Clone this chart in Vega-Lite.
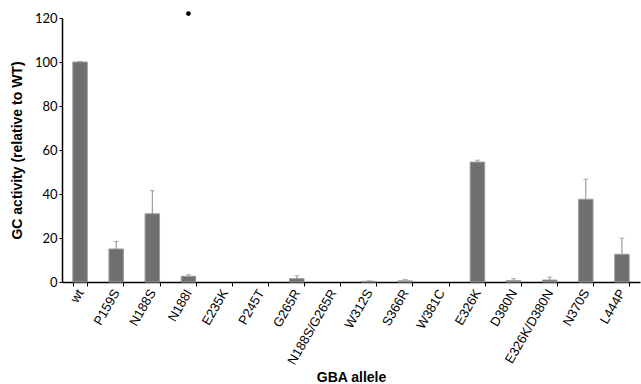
{
  "$schema": "https://vega.github.io/schema/vega-lite/v6.json",
  "autosize": "none",
  "padding": {"left": 62, "top": 18, "right": 1, "bottom": 102},
  "width": 578,
  "height": 264,
  "background": "white",
  "config": {"view": {"stroke": null}, "font": "Liberation Sans"},
  "data": {"values": [
    {"allele": "wt", "value": 100, "upper": 100.2},
    {"allele": "P159S", "value": 15, "upper": 18.5},
    {"allele": "N188S", "value": 31, "upper": 41.5},
    {"allele": "N188I", "value": 2.6, "upper": 3.3},
    {"allele": "E235K", "value": 0, "upper": 0},
    {"allele": "P245T", "value": 0, "upper": 0},
    {"allele": "G265R", "value": 1.5, "upper": 2.8},
    {"allele": "N188S/G265R", "value": 0, "upper": 0},
    {"allele": "W312S", "value": 0.3, "upper": 0.5},
    {"allele": "S366R", "value": 0.5, "upper": 1.1},
    {"allele": "W381C", "value": 0, "upper": 0},
    {"allele": "E326K", "value": 54.5, "upper": 55.4},
    {"allele": "D380N", "value": 0.6, "upper": 1.5},
    {"allele": "E326K/D380N", "value": 0.9, "upper": 2.2},
    {"allele": "N370S", "value": 37.6, "upper": 46.7},
    {"allele": "L444P", "value": 12.6, "upper": 19.9}
  ]},
  "encoding": {
    "x": {
      "field": "allele", "type": "nominal", "sort": null,
      "scale": {
        "domain": ["wt", "P159S", "N188S", "N188I", "E235K", "P245T", "G265R", "N188S/G265R", "W312S", "S366R", "W381C", "E326K", "D380N", "E326K/D380N", "N370S", "L444P"],
        "paddingInner": 0.6, "paddingOuter": 0.3
      },
      "axis": {
        "title": "GBA allele", "titleFont": "Liberation Sans", "titleFontSize": 14, "titleFontWeight": "bold", "titleColor": "black",
        "titleY": 99, "titleBaseline": "alphabetic",
        "labelAngle": -60, "labelFontSize": 13, "labelColor": "black", "labelPadding": 4,
        "tickBand": "extent", "tickColor": "black", "tickSize": 4, "domainColor": "black", "domainWidth": 1.5
      }
    }
  },
  "layer": [
    {
      "transform": [{"filter": "datum.value > 0"}],
      "mark": {"type": "bar", "color": "#6f6f6f", "stroke": "#9a9a9a", "strokeWidth": 1},
      "encoding": {
        "y": {
          "field": "value", "type": "quantitative",
          "scale": {"domain": [0, 120], "nice": false},
          "axis": {
            "title": "GC activity (relative to WT)", "titleFontSize": 14, "titleFontWeight": "bold", "titleColor": "black",
            "values": [0, 20, 40, 60, 80, 100, 120], "grid": false,
            "labelFont": "Lato", "labelFontSize": 13, "labelColor": "black",
            "tickColor": "black", "tickSize": 3, "domainColor": "black", "domainWidth": 1.5,
            "titlePadding": 10
          }
        }
      }
    },
    {
      "transform": [{"filter": "datum.value > 0"}],
      "mark": {"type": "rule", "color": "#8a8a8a", "strokeWidth": 1},
      "encoding": {"y": {"field": "value", "type": "quantitative"}, "y2": {"field": "upper"}}
    },
    {
      "transform": [{"filter": "datum.value > 0"}],
      "mark": {"type": "tick", "color": "#8a8a8a", "thickness": 1, "size": 5},
      "encoding": {"y": {"field": "upper", "type": "quantitative"}}
    },
    {
      "data": {"values": [{"allele": "N188I", "mark": 122}]},
      "mark": {"type": "point", "filled": true, "color": "black", "size": 22, "opacity": 1},
      "encoding": {"y": {"field": "mark", "type": "quantitative"}}
    }
  ]
}
